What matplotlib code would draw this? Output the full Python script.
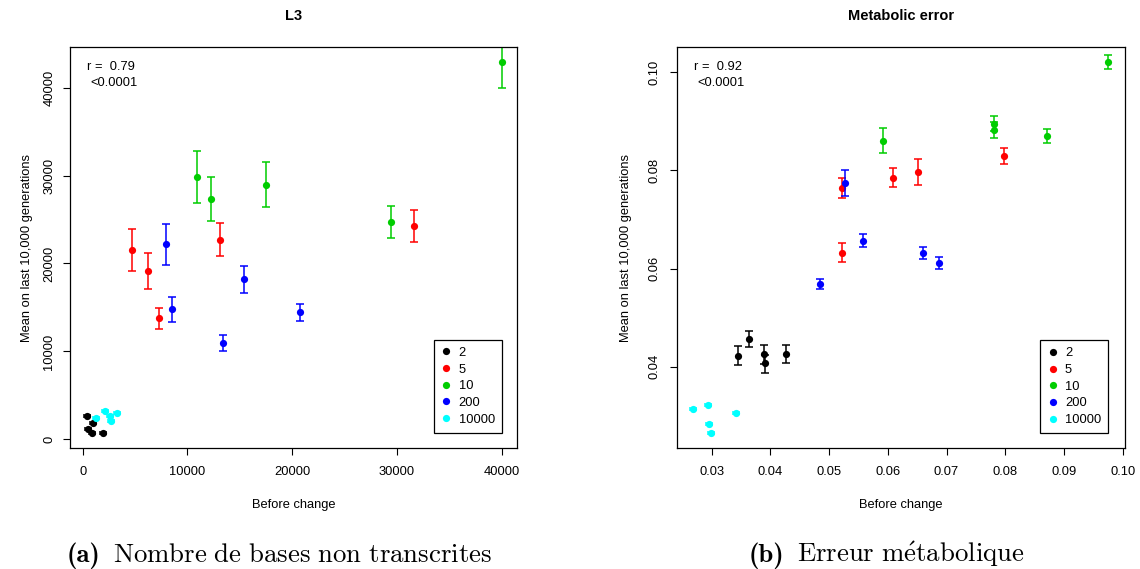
import matplotlib
matplotlib.use("Agg")
import matplotlib.pyplot as plt
from matplotlib.lines import Line2D

plt.rcParams['font.family'] = ['Liberation Sans', 'DejaVu Sans']

# Groups (legend) and colours
groups = ['2', '5', '10', '200', '10000']
group_colors = ['black', '#FF0000', '#00CD00', '#0000FF', '#00FFFF']

# Panel (a): L3 -- one list per group
l3_before = [
    [382, 1012, 506, 888, 1909],
    [4682, 6242, 7325, 13089, 31624],
    [10955, 12261, 17484, 29459, 40000],
    [7994, 8535, 13376, 15414, 20701],
    [1241, 2129, 2606, 2702, 3275],
]
l3_mean = [
    [2686, 1889, 1206, 683, 751],
    [21577, 19150, 13766, 22715, 24270],
    [29845, 27340, 28972, 24763, 42930],
    [22184, 14790, 10959, 18202, 14448],
    [2390, 3221, 2651, 2117, 2959],
]
l3_low = [
    [2586, 1789, 1106, 583, 651],
    [19189, 17141, 12552, 20857, 22412],
    [26890, 24877, 26432, 22943, 39930],
    [19795, 13311, 10011, 16686, 13425],
    [2290, 3121, 2551, 2017, 2859],
]
l3_high = [
    [2786, 1989, 1306, 783, 851],
    [23967, 21160, 14979, 24573, 26128],
    [32840, 29845, 31513, 26584, 45900],
    [24535, 16230, 11831, 19719, 15434],
    [2490, 3321, 2751, 2217, 3059],
]

# Panel (b): metabolic error
met_before = [
    [0.03443, 0.03642, 0.03892, 0.03909, 0.04261],
    [0.05215, 0.05226, 0.06084, 0.06515, 0.07980],
    [0.05913, 0.07815, 0.07815, 0.08707, 0.09758],
    [0.04851, 0.05271, 0.05572, 0.06595, 0.06878],
    [0.02688, 0.02943, 0.02955, 0.02989, 0.03415],
]
met_mean = [
    [0.04224, 0.04564, 0.04258, 0.04068, 0.04265],
    [0.07634, 0.06323, 0.07852, 0.07961, 0.08293],
    [0.08606, 0.08946, 0.08823, 0.08701, 0.10209],
    [0.05685, 0.07736, 0.06568, 0.06317, 0.06113],
    [0.03130, 0.03219, 0.02838, 0.02641, 0.03062],
]
met_low = [
    [0.04034, 0.04401, 0.04061, 0.03878, 0.04082],
    [0.07431, 0.06133, 0.07662, 0.07702, 0.08130],
    [0.08348, 0.08800, 0.08667, 0.08552, 0.10060],
    [0.05583, 0.07478, 0.06439, 0.06188, 0.05984],
    [0.03110, 0.03199, 0.02818, 0.02621, 0.03042],
]
met_high = [
    [0.04414, 0.04734, 0.04442, 0.04245, 0.04448],
    [0.07852, 0.06514, 0.08042, 0.08226, 0.08463],
    [0.08864, 0.09115, 0.08980, 0.08851, 0.10359],
    [0.05793, 0.08008, 0.06704, 0.06446, 0.06242],
    [0.03150, 0.03239, 0.02858, 0.02661, 0.03082],
]

l3_xticks = [0, 10000, 20000, 30000, 40000]
l3_yticks = [0, 10000, 20000, 30000, 40000]
met_xticks = [0.03, 0.04, 0.05, 0.06, 0.07, 0.08, 0.09, 0.10]
met_yticks = [0.04, 0.06, 0.08, 0.10]

FS = 9.3


def panel(ax, before, mean, low, high, title, r_txt, xlim, ylim,
          xticks, yticks, xfmt, yfmt, ypad, ylab_x, leg_anchor):
    for i in range(len(groups)):
        c = group_colors[i]
        yerr = [[m - lo for m, lo in zip(mean[i], low[i])],
                [hi - m for m, hi in zip(mean[i], high[i])]]
        ax.errorbar(before[i], mean[i], yerr=yerr, fmt='none', ecolor=c,
                    elinewidth=1.1, capsize=3, capthick=1.1)
        ax.plot(before[i], mean[i], 'o', color=c, ms=5.2, mew=0)

    ax.set_xlim(*xlim)
    ax.set_ylim(*ylim)
    ax.set_xticks(xticks)
    ax.set_xticklabels([xfmt(v) for v in xticks])
    ax.set_yticks(yticks)
    ax.set_yticklabels([yfmt(v) for v in yticks], rotation=90, va='center')
    ax.tick_params(direction='out', length=5, width=0.8, labelsize=FS)
    ax.tick_params(axis='x', pad=8)
    ax.tick_params(axis='y', pad=ypad)
    for s in ax.spines.values():
        s.set_linewidth(0.9)

    ax.set_xlabel('Before change', fontsize=FS)
    ax.xaxis.set_label_coords(0.5, -0.140)
    ax.xaxis.label.set_va('center')
    ax.set_ylabel('Mean on last 10,000 generations', fontsize=FS)
    ax.yaxis.set_label_coords(ylab_x, 0.5)
    ax.yaxis.label.set_va('center')

    ax.text(0.5, 1.0765, title, transform=ax.transAxes, ha='center',
            va='center', fontsize=10.5, fontweight='bold')
    ax.text(0.037, 0.950, 'r =  ' + r_txt, transform=ax.transAxes,
            ha='left', va='center', fontsize=FS)
    ax.text(0.045, 0.910, '<0.0001', transform=ax.transAxes,
            ha='left', va='center', fontsize=FS)

    handles = [Line2D([], [], marker='o', ls='none', color=c, ms=5.2, mew=0)
               for c in group_colors]
    leg = ax.legend(handles, groups, loc='lower right',
                    bbox_to_anchor=leg_anchor, fontsize=FS,
                    frameon=True, fancybox=False, framealpha=1,
                    edgecolor='black', borderaxespad=0, borderpad=0.55,
                    handlelength=0.8, handletextpad=0.55, labelspacing=0.36)
    leg.get_frame().set_linewidth(0.9)


fig = plt.figure(figsize=(11.4, 5.69), dpi=100)
ax1 = fig.add_axes([0.0614, 0.2121, 0.3924, 0.7058])
ax2 = fig.add_axes([0.5939, 0.2121, 0.3930, 0.7058])

panel(ax1, l3_before, l3_mean, l3_low, l3_high, 'L3', '0.79',
      (-1212, 41490), (-1024, 44660), l3_xticks, l3_yticks,
      lambda v: '%d' % v, lambda v: '%d' % v, 5.5, -0.096, (0.9658, 0.0388))
panel(ax2, met_before, met_mean, met_low, met_high, 'Metabolic error', '0.92',
      (0.02409, 0.10041), (0.02337, 0.10521), met_xticks, met_yticks,
      lambda v: '%.2f' % v, lambda v: '%.2f' % v, 7.0, -0.114, (0.9627, 0.0374))

# sub-figure captions (LaTeX-like Computer Modern)
cap_y = 1 - 561.7 / 569
fig.text(67 / 1140, cap_y, '(a)', family='cmb10', fontsize=19.3,
         ha='left', va='baseline')
fig.text(113 / 1140, cap_y, r'$\mathrm{Nombre\ de\ bases\ non\ transcrites}$',
         math_fontfamily='cm', fontsize=19.3, ha='left', va='baseline')
fig.text(749 / 1140, cap_y, '(b)', family='cmb10', fontsize=19.3,
         ha='left', va='baseline')
fig.text(797 / 1140, cap_y, r"$\mathrm{Erreur\ m\acute{e}tabolique}$",
         math_fontfamily='cm', fontsize=19.3, ha='left', va='baseline')

fig.savefig('out.png', dpi=100)
plt.close(fig)
